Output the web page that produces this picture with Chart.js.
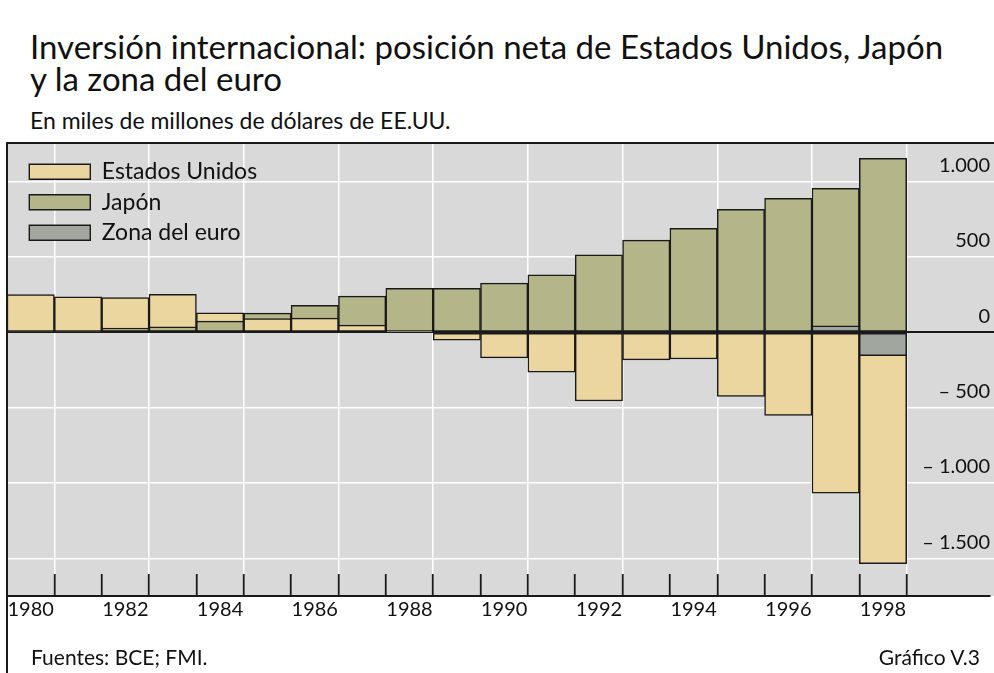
<!DOCTYPE html>
<html>
<head>
<meta charset="utf-8">
<script src="https://cdn.jsdelivr.net/npm/chart.js@4.4.1/dist/chart.umd.min.js"></script>
<style>
  html, body { margin: 0; padding: 0; background: #fff; }
  body { width: 994px; height: 673px; position: relative; overflow: hidden; font-family: Lato, sans-serif; color: #111; }
  .t { position: absolute; white-space: nowrap; z-index: 6; }
  #title { left: 30px; top: 30px; font-size: 33px; line-height: 32px; }
  #subtitle { left: 30px; top: 108px; font-size: 23px; line-height: 24px; }
  #src { left: 31px; top: 645px; font-size: 21px; line-height: 24px; }
  #num { right: 14px; top: 645px; font-size: 21px; line-height: 24px; }
  #wrap { position: absolute; left: 7px; top: 138px; width: 987px; height: 508px; }
  .line { position: absolute; background: #1a1a1a; z-index: 5; }
</style>
</head>
<body>
<div class="t" id="title">Inversión internacional: posición neta de Estados Unidos, Japón<br>y la zona del euro</div>
<div class="t" id="subtitle">En miles de millones de dólares de EE.UU.</div>
<div id="wrap"><canvas id="c" width="987" height="508"></canvas></div>
<div class="line" style="left:6px; top:142px; width:988px; height:2px;"></div>
<div class="line" style="left:6px; top:142px; width:2px; height:531px;"></div>
<div class="t" id="src">Fuentes: BCE; FMI.</div>
<div class="t" id="num">Gráfico V.3</div>
<script>
// ---- data ----
const years = [1980, 1981, 1982, 1983, 1984, 1985, 1986, 1987, 1988, 1989,
               1990, 1991, 1992, 1993, 1994, 1995, 1996, 1997, 1998];
const usValues = [250, 235, 230, 252, 129, 91, 94, 48, 7, -52,
                  -170, -265, -456, -183, -177, -425, -551, -1067, -1536];
const japanValues = [11, 11, 28, 36, 74, 127, 180, 240, 292, 292,
                     327, 382, 514, 612, 691, 817, 890, 956, 1155];
const euroValues = [null, null, null, null, null, null, null, null, null, null,
                    null, null, null, null, null, null, null, 43, -155];
const seriesNames = ['Estados Unidos', 'Japón', 'Zona del euro'];
const xTickValues = [1980.5, 1981.5, 1982.5, 1983.5, 1984.5, 1985.5, 1986.5, 1987.5, 1988.5, 1989.5,
                     1990.5, 1991.5, 1992.5, 1993.5, 1994.5, 1995.5, 1996.5, 1997.5, 1998.5];
const xTickLabels = ['1980', '', '1982', '', '1984', '', '1986', '', '1988', '',
                     '1990', '', '1992', '', '1994', '', '1996', '', '1998'];
const yTickValues = [-1500, -1000, -500, 0, 500, 1000];
const yTickLabels = ['\u2013 1.500', '\u2013 1.000', '\u2013 500', '0', '500', '1.000'];

// ---- styling ----
const INK = '#1a1a1a';
const colors = ['#ecd69f', '#b4b689', '#a1a69f'];

const toPoints = vals => years.map((yr, i) => ({ x: yr, y: vals[i] }));

const plotBackground = {
  id: 'plotBackground',
  beforeDraw(chart) {
    const { ctx, chartArea } = chart;
    ctx.save();
    ctx.fillStyle = '#d9d9d9';
    ctx.fillRect(chartArea.left, chartArea.top, chart.width - chartArea.left, chartArea.bottom - chartArea.top);
    ctx.restore();
  }
};

// overlapping bars: the larger bar is drawn behind the smaller one
const overlapOrder = {
  id: 'overlapOrder',
  beforeDatasetsDraw(chart) {
    const els = [];
    chart.data.datasets.forEach((ds, i) => {
      if (!chart.isDatasetVisible(i)) return;
      const meta = chart.getDatasetMeta(i);
      meta.data.forEach((el, j) => {
        const v = meta.controller.getParsed(j)[meta.vScale.axis];
        if (v !== null && Number.isFinite(el.y) && Number.isFinite(el.base)) els.push(el);
      });
    });
    els.sort((a, b) => Math.abs(b.base - b.y) - Math.abs(a.base - a.y));
    els.forEach(el => el.draw(chart.ctx));
    return false;
  }
};

Chart.defaults.font.family = 'Lato';
Chart.defaults.color = '#111';

const barStyle = { borderColor: INK, borderWidth: 1.5, borderSkipped: false, grouped: false,
                   categoryPercentage: 1, barPercentage: 1 };

new Chart(document.getElementById('c'), {
  type: 'bar',
  data: {
    datasets: [
      Object.assign({ label: seriesNames[0], data: toPoints(usValues), backgroundColor: colors[0] }, barStyle),
      Object.assign({ label: seriesNames[1], data: toPoints(japanValues), backgroundColor: colors[1] }, barStyle),
      Object.assign({ label: seriesNames[2], data: toPoints(euroValues), backgroundColor: colors[2] }, barStyle)
    ]
  },
  options: {
    responsive: false,
    animation: false,
    layout: { padding: { top: 6, left: 0, right: 0, bottom: 0 } },
    plugins: {
      tooltip: { enabled: false },
      legend: {
        position: 'chartArea',
        align: 'start',
        labels: {
          boxWidth: 61,
          boxHeight: 15,
          padding: 22.3,
          color: '#111',
          font: { family: 'Lato', size: 23, lineHeight: '8.2px' },
          generateLabels: chart =>
            Chart.defaults.plugins.legend.labels.generateLabels(chart).map(item =>
              Object.assign(item, { text: [item.text], lineWidth: 1.4 }))
        }
      }
    },
    scales: {
      x: {
        type: 'linear',
        offset: false,
        min: 1979.5,
        max: 2000.26,
        bounds: 'data',
        afterBuildTicks: axis => { axis.ticks = xTickValues.map(v => ({ value: v })); },
        grid: {
          offset: false,
          color: c => (c.index % 2 === 0 ? '#ffffff' : 'rgba(0,0,0,0)'),
          lineWidth: 1.5,
          drawTicks: true,
          tickLength: -22,
          tickColor: INK,
          tickWidth: 1.8
        },
        border: { display: true, color: INK, width: 2 },
        ticks: {
          autoSkip: false,
          maxRotation: 0,
          padding: 24,
          labelOffset: -23.68,
          color: '#111',
          font: { family: 'Lato', size: 20 },
          callback: (v, i) => xTickLabels[i]
        }
      },
      y: {
        type: 'linear',
        position: 'right',
        min: -1750,
        max: 1250,
        bounds: 'data',
        afterBuildTicks: axis => { axis.ticks = yTickValues.map(v => ({ value: v })); },
        grid: {
          color: c => (c.tick && c.tick.value === 0 ? INK : '#ffffff'),
          lineWidth: c => (c.tick && c.tick.value === 0 ? 2 : 1.5),
          drawTicks: true,
          tickLength: 4
        },
        border: { display: false },
        ticks: {
          mirror: true,
          padding: 0,
          labelOffset: -16,
          color: '#111',
          font: { family: 'Lato', size: 20, lineHeight: 0.01 },
          callback: (v, i) => yTickLabels[i]
        }
      }
    }
  },
  plugins: [plotBackground, overlapOrder]
});
</script>
</body>
</html>
